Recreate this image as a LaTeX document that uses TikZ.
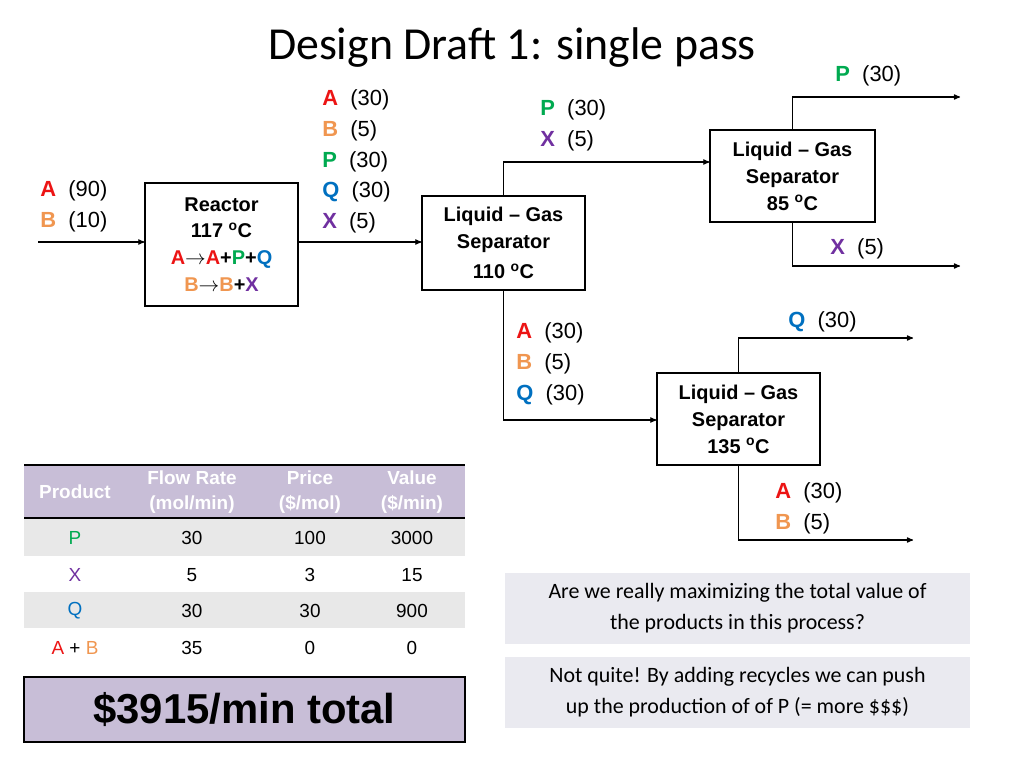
\documentclass[tikz,border=0pt]{standalone}
\usepackage{fontspec}
\setmainfont{Liberation Sans}
\newfontfamily\titlefont{Carlito}
\usepackage{tikz}
\usetikzlibrary{arrows,positioning,calc}
\definecolor{myred}{RGB}{236,20,20}
\definecolor{myorange}{RGB}{240,150,80}
\definecolor{mygreen}{RGB}{0,170,80}
\definecolor{myblue}{RGB}{0,112,192}
\definecolor{mypurple}{RGB}{112,48,160}
\definecolor{mylavender}{RGB}{200,190,215}
\definecolor{myrowgray}{RGB}{232,232,232}
\definecolor{mynote}{RGB}{234,234,240}
\newcommand{\spA}{\textcolor{myred}{\textbf{A}}}
\newcommand{\spB}{\textcolor{myorange}{\textbf{B}}}
\newcommand{\spP}{\textcolor{mygreen}{\textbf{P}}}
\newcommand{\spQ}{\textcolor{myblue}{\textbf{Q}}}
\newcommand{\spX}{\textcolor{mypurple}{\textbf{X}}}
\begin{document}
\begin{tikzpicture}[
  x=1bp, y=-1bp,
  thick,
  unit/.style={
    draw,
    line width=1.2pt,
    fill=white,
    align=center,
    font=\fontsize{20}{27}\selectfont\bfseries,
    inner sep=0pt
    },
  flow/.style={->, >=stealth', line width=1.2pt},
  lbl/.style={anchor=north west, align=left, inner sep=0pt,
    font=\fontsize{22}{31}\selectfont},
  note/.style={fill=mynote, minimum width=465bp, minimum height=71bp,
    align=center, font=\titlefont\fontsize{22}{31}\selectfont}
]
\useasboundingbox (0,0) rectangle (1024,768);

\node[font=\titlefont\fontsize{46}{50}\selectfont] (title) at (512,48) {Design Draft 1: single pass};

% units
\node[unit, minimum width=153bp, minimum height=123bp] (reactor) at (221.5,244.5)
  {Reactor\\117 \textsuperscript{o}C\\
   \textcolor{myred}{A}{\normalfont$\rightarrow$}\textcolor{myred}{A}+\textcolor{mygreen}{P}+\textcolor{myblue}{Q}\\
   \textcolor{myorange}{B}{\normalfont$\rightarrow$}\textcolor{myorange}{B}+\textcolor{mypurple}{X}};
\node[unit, minimum width=163bp, minimum height=94bp] (sepone) at (503.5,243)
  {Liquid -- Gas\\Separator\\[3bp]110 \textsuperscript{o}C};
\node[unit, minimum width=165bp, minimum height=92bp] (septwo) at (792.5,176)
  {Liquid -- Gas\\Separator\\85 \textsuperscript{o}C};
\node[unit, minimum width=163bp, minimum height=92bp] (septhree) at (738.5,419)
  {Liquid -- Gas\\Separator\\135 \textsuperscript{o}C};

% streams
\coordinate (feed) at (38,242);
\coordinate (pout) at (960,97);
\coordinate (xout) at (960,266);
\coordinate (qout) at (913,338);
\coordinate (about) at (913,540);
\draw[flow] (feed) -- (reactor.west |- feed);
\draw[flow] (reactor.east |- feed) -- (sepone.west |- feed);
\draw[flow] (sepone.north) |- (septwo.west |- 0,162);
\draw[flow] (sepone.south) |- (septhree.west |- 0,420);
\draw[flow] (septwo.north) |- (pout);
\draw[flow] (septwo.south) |- (xout);
\draw[flow] (septhree.north) |- (qout);
\draw[flow] (septhree.south) |- (about);

% stream labels
\node[lbl] (feedlbl) at (40,180) {\spA\ \ (90)\\\spB\ \ (10)};
\node[lbl] (rxlbl) at (322,89) {\spA\ \ (30)\\\spB\ \ (5)\\\spP\ \ (30)\\\spQ\ \ (30)\\\spX\ \ (5)};
\node[lbl] (toplbl) at (540,99) {\spP\ \ (30)\\\spX\ \ (5)};
\node[lbl] (botlbl) at (516,322) {\spA\ \ (30)\\\spB\ \ (5)\\\spQ\ \ (30)};
\node[lbl] (plbl) at (835,65) {\spP\ \ (30)};
\node[lbl] (xlbl) at (830,238) {\spX\ \ (5)};
\node[lbl] (qlbl) at (788,311) {\spQ\ \ (30)};
\node[lbl] (ablbl) at (775,482) {\spA\ \ (30)\\\spB\ \ (5)};

% table
\fill[mylavender] (24,465) rectangle (465,518);
\fill[myrowgray] (24,518) rectangle (465,556);
\fill[myrowgray] (24,592) rectangle (465,628);
\draw[line width=2.5pt] (24,465) -- (465,465);
\draw[line width=2pt] (24,518) -- (465,518);
\foreach \cx/\head in {75/Product, 192/{Flow Rate\\(mol/min)}, 310/{Price\\(\$/mol)}, 412/{Value\\(\$/min)}}
  \node[text=white, font=\fontsize{19}{25}\selectfont\bfseries, align=center] at (\cx,492) {\head};
\foreach \ry/\prod/\rate/\price/\val in {
    538/\textcolor{mygreen}{P}/30/100/3000,
    575/\textcolor{mypurple}{X}/5/3/15,
    611/\textcolor{myblue}{Q}/30/30/900,
    648/{\textcolor{myred}{A} + \textcolor{myorange}{B}}/35/0/0}{
  \node[font=\fontsize{19}{23}\selectfont] at (75,\ry) {\prod};
  \node[font=\fontsize{19}{23}\selectfont] at (192,\ry) {\rate};
  \node[font=\fontsize{19}{23}\selectfont] at (310,\ry) {\price};
  \node[font=\fontsize{19}{23}\selectfont] at (412,\ry) {\val};
}
\node[draw, line width=2.5pt, fill=mylavender, minimum width=441bp, minimum height=65bp,
  font=\fontsize{42}{46}\selectfont\bfseries] (total) at (244.5,709.5) {\$3915/min total};

% notes
\node[note] (question) at (737.5,608.5) {Are we really maximizing the total value of\\the products in this process?};
\node[note] (answer) at (737.5,692.5) {Not quite! By adding recycles we can push\\up the production of of P (= more \$\$\$)};
\end{tikzpicture}
\end{document}
